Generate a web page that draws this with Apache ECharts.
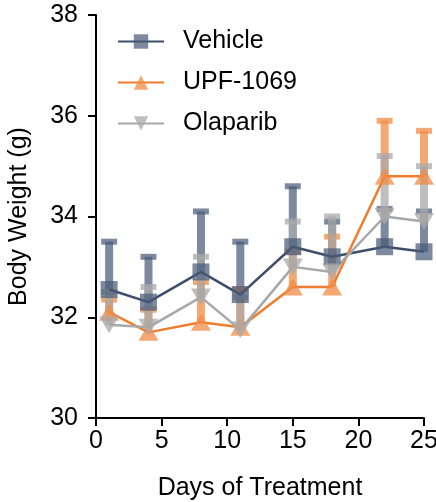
<!DOCTYPE html>
<html>
<head>
<meta charset="utf-8">
<script src="https://cdn.jsdelivr.net/npm/echarts@6/dist/echarts.min.js"></script>
<style>html,body{margin:0;padding:0;background:#fff}#main{width:436px;height:502px}</style>
</head>
<body>
<div id="main"></div>
<script>
// days measured
const days = [1, 4, 8, 11, 15, 18, 22, 25];
// means + upper error (mean + SD)
const vehicleMean = [32.55, 32.3, 32.9, 32.45, 33.4, 33.2, 33.4, 33.3];
const vehicleUpper = [33.5, 33.2, 34.1, 33.5, 34.6, 33.9, 34.15, 34.1];
const upfMean = [32.1, 31.7, 31.9, 31.8, 32.6, 32.6, 34.8, 34.8];
const upfUpper = [32.35, 32.15, 32.7, 32.55, 33.3, 33.6, 35.9, 35.7];
const olaMean = [31.85, 31.8, 32.4, 31.75, 33.0, 32.9, 34.0, 33.9];
const olaUpper = [32.5, 32.6, 33.2, 32.4, 33.9, 34.0, 35.2, 35.0];
const yTicks = [30, 32, 34, 36, 38];

const groups = [
  { name: 'Vehicle', mean: vehicleMean, upper: vehicleUpper, line: '#3c4e6a', fill: 'rgba(74,91,120,0.72)', symbol: 'rect', size: 17 },
  { name: 'UPF-1069', mean: upfMean, upper: upfUpper, line: '#ee7d2e', fill: 'rgba(240,140,70,0.75)', symbol: 'triangle', size: 20 },
  { name: 'Olaparib', mean: olaMean, upper: olaUpper, line: '#a8a8a8', fill: 'rgba(170,170,170,0.75)', symbol: 'path://M0,0 L10,0 L5,9 Z', size: 20 }
];

const font = 'Liberation Sans';
const chart = echarts.init(document.getElementById('main'));

const series = [];
groups.forEach((g) => {
  // upward error bars with cap
  series.push({
    type: 'custom',
    name: g.name + '_err',
    z: 1,
    silent: true,
    data: days.map((d, i) => [d, g.mean[i], g.upper[i]]),
    renderItem: function (params, api) {
      const base = api.coord([api.value(0), api.value(1)]);
      const top = api.coord([api.value(0), api.value(2)]);
      return {
        type: 'group',
        children: [
          { type: 'rect', shape: { x: base[0] - 4, y: top[1], width: 8, height: base[1] - top[1] }, style: { fill: g.fill } },
          { type: 'rect', shape: { x: base[0] - 8, y: top[1] - 3, width: 16, height: 6 }, style: { fill: g.fill } }
        ]
      };
    }
  });
  series.push({
    type: 'line',
    name: g.name,
    z: 2,
    data: days.map((d, i) => [d, g.mean[i]]),
    symbol: g.symbol,
    symbolSize: g.symbol === 'rect' ? g.size : [g.size, g.size * 0.85],
    showAllSymbol: true,
    lineStyle: { color: g.line, width: 2.5 },
    itemStyle: { color: g.fill },
    emphasis: { disabled: true }
  });
});

chart.setOption({
  animation: false,
  grid: { left: 96, right: 12, top: 15, bottom: 84, containLabel: false, outerBoundsMode: 'none' },
  legend: {
    left: 112,
    top: 24,
    orient: 'vertical',
    itemWidth: 46,
    itemHeight: 18,
    itemGap: 16,
    data: groups.map(g => g.name),
    textStyle: { fontFamily: font, fontSize: 25, color: '#000', padding: [0, 0, 0, 14] }
  },
  xAxis: {
    type: 'value',
    min: 0, max: 25, interval: 5,
    name: 'Days of Treatment',
    nameLocation: 'middle',
    nameGap: 58,
    nameTextStyle: { fontFamily: font, fontSize: 25, color: '#000' },
    axisLine: { lineStyle: { color: '#000', width: 2 } },
    axisTick: { show: true, length: 8, lineStyle: { color: '#000', width: 2 } },
    axisLabel: { fontFamily: font, fontSize: 25, color: '#000', margin: 11 },
    splitLine: { show: false }
  },
  yAxis: {
    type: 'value',
    min: yTicks[0], max: yTicks[yTicks.length - 1], interval: 2,
    name: 'Body Weight (g)',
    nameLocation: 'middle',
    nameGap: 64,
    nameTextStyle: { fontFamily: font, fontSize: 25, color: '#000' },
    axisLine: { show: true, lineStyle: { color: '#000', width: 2 } },
    axisTick: { show: true, length: 8, lineStyle: { color: '#000', width: 2 } },
    axisLabel: { fontFamily: font, fontSize: 25, color: '#000', margin: 18 },
    splitLine: { show: false }
  },
  series: series
});
</script>
</body>
</html>
